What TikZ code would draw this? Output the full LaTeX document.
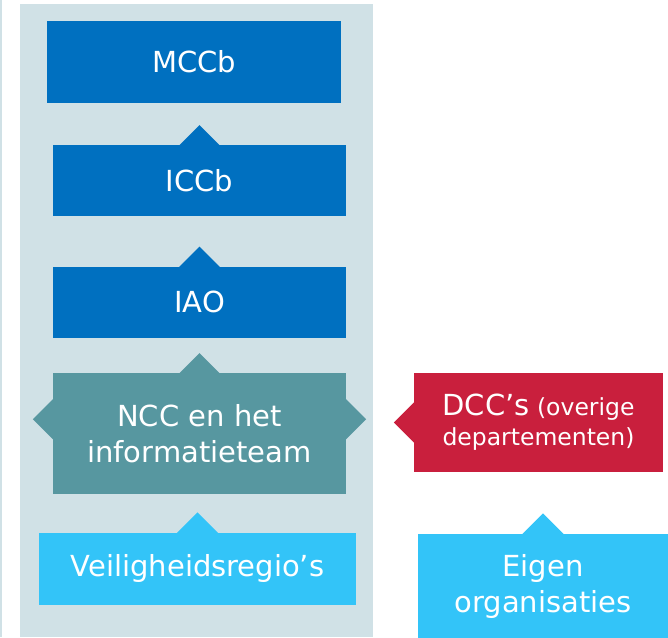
\documentclass[tikz,border=0pt]{standalone}
\usepackage{fontspec}
\setmainfont{DejaVu Sans}
\usetikzlibrary{positioning}

\begin{document}
\begin{tikzpicture}[x=1pt, y=-1pt, node distance = 40pt]
        \definecolor{colorpanel}{HTML}{D0E1E6}
        \definecolor{colortop}{HTML}{0070C0}
        \definecolor{colorncc}{HTML}{5797A0}
        \definecolor{colordcc}{HTML}{C91F3D}
        \definecolor{colorbase}{HTML}{33C4F8}
        \tikzset{box/.style={
                align=center,
                inner sep = 0pt,
                text = white,
                font = \fontsize{29}{36}\selectfont,
                minimum width = 293pt,
                minimum height = 71pt
        }}
        \tikzset{topbox/.style={box, fill=colortop}}
        \tikzset{nccbox/.style={box, fill=colorncc}}
        \tikzset{dccbox/.style={box, fill=colordcc}}
        \tikzset{basebox/.style={box, fill=colorbase}}

        \useasboundingbox (0,0) rectangle (668,637);
        \fill[colorpanel] (0,0) rectangle (2,637);
        \fill[colorpanel] (20,4) rectangle (373,637);

        \node[topbox, minimum width = 294pt, minimum height = 82pt] (mccb) at (194,62) {MCCb};
        \node[topbox, below=42pt of mccb, xshift=5.5pt] (iccb) {ICCb};
        \node[topbox, below=50pt of iccb] (iao) {IAO};
        \node[nccbox, below=35pt of iao, minimum height = 121pt] (ncc) {NCC en het\\informatieteam};
        \node[basebox, below=38pt of ncc, xshift=-2pt, minimum width = 317pt, minimum height = 72pt] (veil) {Veiligheidsregio’s};
        \node[dccbox, minimum width = 249pt, minimum height = 99pt,
              font = \fontsize{23.5}{30}\selectfont] (dcc) at (538.5,422.5)
              {{\fontsize{29}{30}\selectfont DCC’s} (overige\\departementen)};
        \node[basebox, minimum width = 250pt, minimum height = 105pt] (eigen) at (543,586) {Eigen\\organisaties};

        % pointers
        \fill[colortop] ([xshift=-21pt,yshift=-1pt]iccb.north) -- ([yshift=20pt]iccb.north) -- ([xshift=21pt,yshift=-1pt]iccb.north) -- cycle;
        \fill[colortop] ([xshift=-21pt,yshift=-1pt]iao.north) -- ([yshift=20pt]iao.north) -- ([xshift=21pt,yshift=-1pt]iao.north) -- cycle;
        \fill[colorncc] ([xshift=-21pt,yshift=-1pt]ncc.north) -- ([yshift=20pt]ncc.north) -- ([xshift=21pt,yshift=-1pt]ncc.north) -- cycle;
        \fill[colorncc] ([xshift=1pt,yshift=35.5pt]ncc.west) -- ([xshift=-20pt,yshift=14.5pt]ncc.west) -- ([xshift=1pt,yshift=-6.5pt]ncc.west) -- cycle;
        \fill[colorncc] ([xshift=-1pt,yshift=35.5pt]ncc.east) -- ([xshift=20pt,yshift=14.5pt]ncc.east) -- ([xshift=-1pt,yshift=-6.5pt]ncc.east) -- cycle;
        \fill[colorbase] ([xshift=-21pt,yshift=-1pt]veil.north) -- ([yshift=20pt]veil.north) -- ([xshift=21pt,yshift=-1pt]veil.north) -- cycle;
        \fill[colordcc] ([xshift=1pt,yshift=21pt]dcc.west) -- ([xshift=-20pt]dcc.west) -- ([xshift=1pt,yshift=-21pt]dcc.west) -- cycle;
        \fill[colorbase] ([xshift=-21pt,yshift=-1pt]eigen.north) -- ([yshift=20pt]eigen.north) -- ([xshift=21pt,yshift=-1pt]eigen.north) -- cycle;
\end{tikzpicture}
\end{document}
